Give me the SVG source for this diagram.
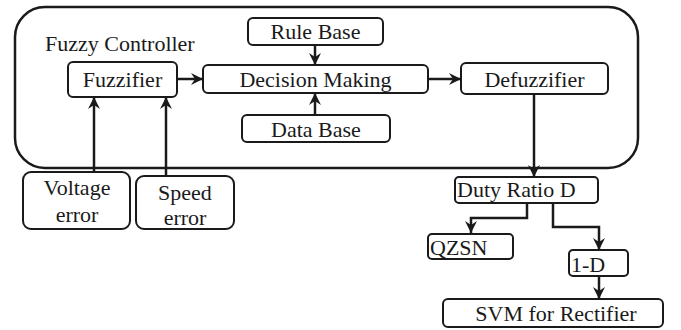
<svg xmlns="http://www.w3.org/2000/svg" width="681" height="330" viewBox="0 0 681 330" font-family="'Liberation Serif', 'DejaVu Serif', serif">
<defs>
<marker id="ah" viewBox="0 0 12 12" markerWidth="12" markerHeight="12" refX="12" refY="6" orient="auto" markerUnits="userSpaceOnUse">
<path d="M0,0 L12,6 L0,12 L4,6 z" fill="#1a1a1a"/>
</marker>
<style>
.box{fill:#fff;stroke:#1a1a1a;stroke-width:2}
.outer{fill:#fff;stroke:#1a1a1a;stroke-width:2.5}
text{font-family:'Liberation Serif','DejaVu Serif',serif;font-size:22px;fill:#1a1a1a}
.c{text-anchor:middle}
.arr{fill:none;stroke:#1a1a1a;stroke-width:2.5;marker-end:url(#ah)}
</style>
</defs>
<g id="fuzzy-controller">
<rect class="outer" x="15" y="7" width="623" height="161" rx="30" ry="30"/>
<text x="45" y="51">Fuzzy Controller</text>
</g>
<g id="fuzzifier">
<rect class="box" x="68" y="62" width="109" height="35" rx="5"/>
<text class="c" x="122.5" y="87">Fuzzifier</text>
</g>
<g id="rule-base">
<rect class="box" x="248" y="18" width="135" height="27" rx="5"/>
<text class="c" x="315.5" y="39">Rule Base</text>
</g>
<g id="decision-making">
<rect class="box" x="203" y="65" width="225" height="28" rx="5"/>
<text class="c" x="315.5" y="87">Decision Making</text>
</g>
<g id="data-base">
<rect class="box" x="242" y="115" width="148" height="27" rx="5"/>
<text class="c" x="316" y="137">Data Base</text>
</g>
<g id="defuzzifier">
<rect class="box" x="461" y="63" width="147" height="31" rx="5"/>
<text class="c" x="534.5" y="87">Defuzzifier</text>
</g>
<g id="voltage-error">
<rect class="box" x="23" y="172" width="107" height="57" rx="8"/>
<text class="c" x="77" y="195">Voltage</text>
<text class="c" x="77" y="222">error</text>
</g>
<g id="speed-error">
<rect class="box" x="136" y="176" width="98" height="53" rx="8"/>
<text class="c" x="185" y="200">Speed</text>
<text class="c" x="185" y="225">error</text>
</g>
<g id="duty-ratio">
<rect class="box" x="455" y="177" width="143" height="26" rx="4"/>
<text x="457" y="197">Duty Ratio D</text>
</g>
<g id="qzsn">
<rect class="box" x="428" y="234" width="85" height="25" rx="4"/>
<text x="430" y="255">QZSN</text>
</g>
<g id="one-minus-d">
<rect class="box" x="569" y="250" width="59" height="26" rx="4"/>
<text x="571" y="272">1-D</text>
</g>
<g id="svm">
<rect class="box" x="443" y="299" width="220" height="28" rx="5"/>
<text class="c" x="556" y="321">SVM for Rectifier</text>
</g>
<g id="connectors">
<line class="arr" x1="177" y1="79" x2="203" y2="79"/>
<line class="arr" x1="428" y1="79" x2="461" y2="79"/>
<line class="arr" x1="315" y1="45" x2="315" y2="65"/>
<line class="arr" x1="315" y1="115" x2="315" y2="93"/>
<line class="arr" x1="94" y1="172" x2="94" y2="97"/>
<line class="arr" x1="166" y1="176" x2="166" y2="97"/>
<line class="arr" x1="534" y1="94" x2="534" y2="177"/>
<polyline class="arr" points="527,203 527,218 471,218 471,233"/>
<polyline class="arr" points="553,203 553,227 599,227 599,250"/>
<line class="arr" x1="599" y1="276" x2="599" y2="299"/>
</g>
</svg>
